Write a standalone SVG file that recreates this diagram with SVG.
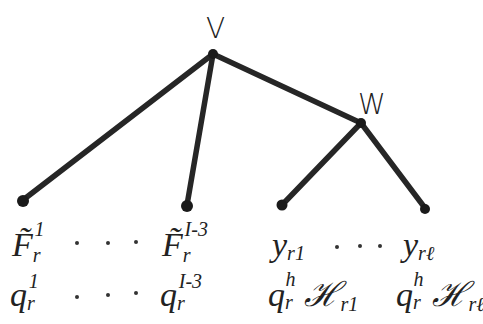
<svg xmlns="http://www.w3.org/2000/svg" width="483" height="324" viewBox="0 0 483 324">
<style>
.edge{stroke:#262626;stroke-width:5.5;stroke-linecap:round;fill:none}
.dot{fill:#1a1a1a}
.lbl{font-family:"DejaVu Sans",sans-serif;font-weight:200;font-size:28px;fill:#222}
.m{font-family:"Liberation Serif","DejaVu Serif",serif;font-style:italic;font-size:34px;fill:#222}
.s{font-size:20px}
.el{fill:#333}
</style>
<rect width="483" height="324" fill="#ffffff"/>
<g id="connectors">
<line class="edge" x1="213" y1="54" x2="23" y2="200"/>
<line class="edge" x1="213" y1="54" x2="187" y2="205"/>
<line class="edge" x1="213" y1="54" x2="361" y2="123"/>
<line class="edge" x1="361" y1="123" x2="282" y2="205"/>
<line class="edge" x1="361" y1="123" x2="425" y2="208"/>
</g>
<g id="V"><circle class="dot" cx="213" cy="54" r="5"/><text class="lbl" x="206" y="38">V</text></g>
<g id="W"><circle class="dot" cx="361" cy="123" r="5"/><text class="lbl" x="358" y="114">W</text></g>
<g id="leaf1"><circle class="dot" cx="23" cy="201" r="6"/></g>
<g id="leaf2"><circle class="dot" cx="187" cy="206" r="6"/></g>
<g id="leaf3"><circle class="dot" cx="282" cy="205" r="5.5"/></g>
<g id="leaf4"><circle class="dot" cx="425" cy="209" r="5"/></g>
<g id="labels">
<text class="m" x="12" y="256">F̃<tspan class="s" dy="6">r</tspan><tspan class="s" dx="-6" dy="-26">1</tspan></text>
<circle class="el" cx="77" cy="243" r="2"/><circle class="el" cx="108" cy="243" r="2"/><circle class="el" cx="136" cy="242" r="2"/>
<text class="m" x="162" y="256">F̃<tspan class="s" dy="6">r</tspan><tspan class="s" dx="-6" dy="-26">I-3</tspan></text>
<text class="m" x="10" y="306">q<tspan class="s" dy="4">r</tspan><tspan class="s" dx="-6" dy="-22">1</tspan></text>
<circle class="el" cx="77" cy="297" r="2"/><circle class="el" cx="108" cy="295" r="2"/><circle class="el" cx="136" cy="293" r="2"/>
<text class="m" x="160" y="306">q<tspan class="s" dy="4">r</tspan><tspan class="s" dx="-6" dy="-22">I-3</tspan></text>
<text class="m" x="272" y="256">y<tspan class="s" dy="4">r1</tspan></text>
<circle class="el" cx="337" cy="247" r="2"/><circle class="el" cx="360" cy="246" r="2"/><circle class="el" cx="380" cy="246" r="2"/>
<text class="m" x="403" y="256">y<tspan class="s" dy="4">rℓ</tspan></text>
<text class="m" x="268" y="306">q<tspan class="s" dy="3">r</tspan><tspan class="s" dx="-7" dy="-23">h</tspan><tspan dx="9" dy="20">ℋ</tspan><tspan class="s" dy="5">r1</tspan></text>
<text class="m" x="396" y="306">q<tspan class="s" dy="3">r</tspan><tspan class="s" dx="-7" dy="-23">h</tspan><tspan dx="9" dy="20">ℋ</tspan><tspan class="s" dy="5">rℓ</tspan></text>
</g>
</svg>
